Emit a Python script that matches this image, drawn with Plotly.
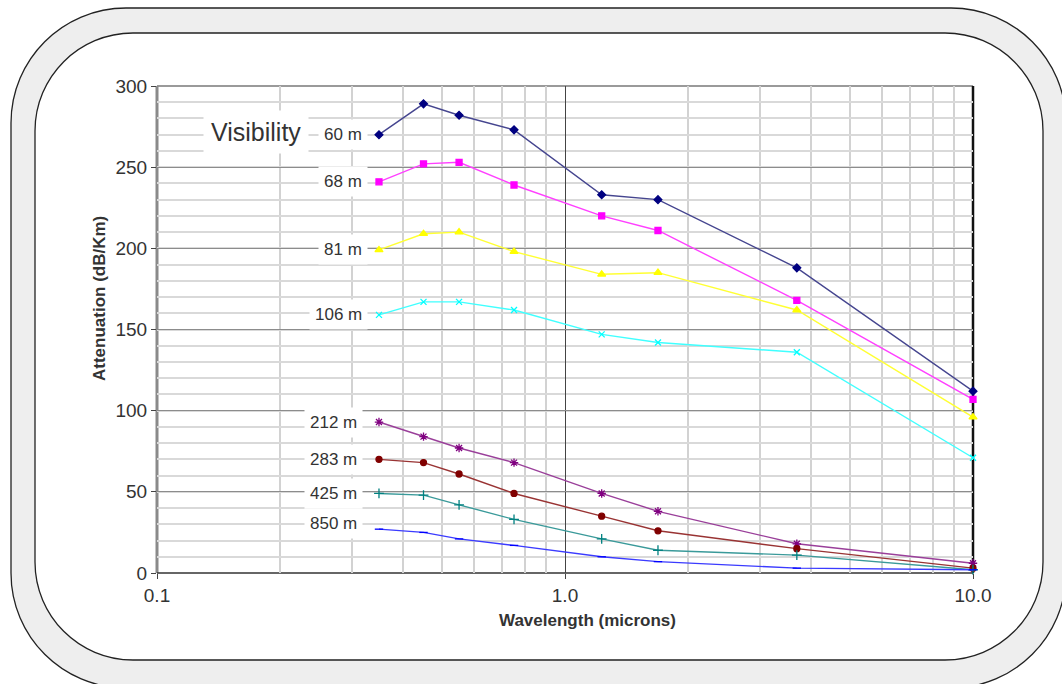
import numpy as np
import plotly.graph_objects as go

# Wavelengths (microns) shared by every visibility series
wavelength = [0.35, 0.45, 0.55, 0.75, 1.23, 1.69, 3.7, 10.0]

# Attenuation (dB/km) for each visibility distance
att_60 = [270, 289, 282, 273, 233, 230, 188, 112]
att_68 = [241, 252, 253, 239, 220, 211, 168, 107]
att_81 = [199, 209, 210, 198, 184, 185, 162, 96]
att_106 = [159, 167, 167, 162, 147, 142, 136, 71]
att_212 = [93, 84, 77, 68, 49, 38, 18, 6]
att_283 = [70, 68, 61, 49, 35, 26, 15, 3]
att_425 = [49, 48, 42, 33, 21, 14, 11, 2]
att_850 = [27, 25, 21, 17, 10, 7, 3, 2]

series_names = ["60 m", "68 m", "81 m", "106 m", "212 m", "283 m", "425 m", "850 m"]
series_values = [att_60, att_68, att_81, att_106, att_212, att_283, att_425, att_850]

x_tick_vals = [0.1, 1.0, 10.0]
x_tick_text = ["0.1", "1.0", "10.0"]
y_tick_vals = [0, 50, 100, 150, 200, 250, 300]

# Per-series styling (Excel-like palette)
marker_colors = ["#000080", "#ff00ff", "#ffff00", "#00ffff", "#800080", "#800000", "#008080", "#0000ff"]
line_colors = ["#45458f", "#ff40ff", "#ffff33", "#40ffff", "#9a3f9a", "#993333", "#3a9a9a", "#3b3bff"]
symbols = ["diamond", "square", "triangle-up", "x-thin-open", "asterisk-open",
           "circle", "cross-thin-open", "line-ew-open"]
msizes = [6, 6, 7, 6, 7, 6, 7, 6]
label_shift = [(-11, 0), (-11, 0), (-11, 0), (-11, 0), (-16, 0), (-16, 0), (-16, 0), (-16, 6)]

FONT = "Arial, 'Liberation Sans', sans-serif"
W, H = 1062, 684
ML, MR, MT, MB = 157, 89, 86, 111
PW, PH = W - ML - MR, H - MT - MB


def px(x):
    return (x - ML) / PW


def py(y):
    return (H - MB - y) / PH


def rounded_rect(x0, y0, x1, y1, r):
    k = 0.5523 * r
    pts = []
    pts.append(f"M {px(x0 + r)},{py(y0)}")
    pts.append(f"L {px(x1 - r)},{py(y0)}")
    pts.append(f"C {px(x1 - r + k)},{py(y0)} {px(x1)},{py(y0 + r - k)} {px(x1)},{py(y0 + r)}")
    pts.append(f"L {px(x1)},{py(y1 - r)}")
    pts.append(f"C {px(x1)},{py(y1 - r + k)} {px(x1 - r + k)},{py(y1)} {px(x1 - r)},{py(y1)}")
    pts.append(f"L {px(x0 + r)},{py(y1)}")
    pts.append(f"C {px(x0 + r - k)},{py(y1)} {px(x0)},{py(y1 - r + k)} {px(x0)},{py(y1 - r)}")
    pts.append(f"L {px(x0)},{py(y0 + r)}")
    pts.append(f"C {px(x0)},{py(y0 + r - k)} {px(x0 + r - k)},{py(y0)} {px(x0 + r)},{py(y0)}")
    pts.append("Z")
    return " ".join(pts)


fig = go.Figure()

for name, vals, mc, lc, sym, ms in zip(series_names, series_values, marker_colors,
                                        line_colors, symbols, msizes):
    fig.add_trace(go.Scatter(
        x=wavelength, y=vals, name=name, mode="lines+markers",
        line=dict(color=lc, width=1.4),
        marker=dict(symbol=sym, size=ms, color=mc, line=dict(color=mc, width=1.3)),
        cliponaxis=False, showlegend=False,
    ))

# Series name labels next to the first point of each curve
for name, vals, (dx, dy) in zip(series_names, series_values, label_shift):
    fig.add_annotation(
        x=np.log10(wavelength[0]), y=vals[0], xref="x", yref="y",
        text=name, showarrow=False, xanchor="right", yanchor="middle",
        xshift=dx, yshift=dy, bgcolor="white", borderpad=5,
        font=dict(family=FONT, size=17, color="#333333"),
    )

fig.add_annotation(
    x=px(256), y=py(132), xref="paper", yref="paper", text="Visibility",
    showarrow=False, xanchor="center", yanchor="middle",
    bgcolor="white", borderpad=7,
    font=dict(family=FONT, size=25, color="#333333"),
)

# Axis titles
fig.add_annotation(
    x=px(99), y=py(299), xref="paper", yref="paper",
    text="<b>Attenuation (dB/Km)</b>", textangle=-90, showarrow=False,
    xanchor="center", yanchor="middle",
    font=dict(family=FONT, size=17, color="#333333"),
)
fig.add_annotation(
    x=px(587), y=py(620), xref="paper", yref="paper",
    text="<b>Wavelength (microns)</b>", showarrow=False,
    xanchor="center", yanchor="middle",
    font=dict(family=FONT, size=17, color="#333333"),
)

shapes = [
    # outer frame and inner panel
    dict(type="path", xref="paper", yref="paper", layer="below",
         path=rounded_rect(11, 8, 1066, 688, 115),
         fillcolor="#eeeeee", line=dict(color="#222222", width=1.3)),
    dict(type="path", xref="paper", yref="paper", layer="below",
         path=rounded_rect(35, 33, 1043, 660, 98),
         fillcolor="white", line=dict(color="#222222", width=1.3)),
    # plot area borders
    dict(type="line", xref="paper", yref="paper", x0=0, x1=1, y0=1, y1=1,
         layer="between", line=dict(color="#9a9a9a", width=2)),
    dict(type="line", xref="paper", yref="paper", x0=0, x1=0, y0=0, y1=1,
         layer="between", line=dict(color="#8a8a8a", width=3)),
    dict(type="line", xref="paper", yref="paper", x0=1, x1=1, y0=0, y1=1,
         layer="between", line=dict(color="#111111", width=2.5)),
    dict(type="line", xref="paper", yref="paper", x0=0, x1=1, y0=0, y1=0,
         layer="between", line=dict(color="#333333", width=1.5)),
]

minor_x = [m * d for d in (0.1, 1.0) for m in range(2, 10)]

fig.update_layout(
    width=W, height=H,
    margin=dict(l=ML, r=MR, t=MT, b=MB, pad=0),
    paper_bgcolor="white", plot_bgcolor="rgba(0,0,0,0)",
    shapes=shapes,
    font=dict(family=FONT, color="#333333"),
    xaxis=dict(
        type="log", range=[-1, 1], tickmode="array",
        tickvals=x_tick_vals, ticktext=x_tick_text,
        ticks="outside", ticklen=5, tickcolor="#444444", tickwidth=1,
        tickfont=dict(family=FONT, size=19, color="#333333"),
        showgrid=True, gridcolor="#444444", gridwidth=1.3,
        zeroline=False, showline=False,
        minor=dict(tickmode="array", tickvals=minor_x, showgrid=True,
                   gridcolor="#d2d2d2", gridwidth=2, ticks=""),
        automargin=False,
    ),
    yaxis=dict(
        range=[0, 300], tickmode="array", tickvals=y_tick_vals,
        ticks="outside", ticklen=5, tickcolor="#444444", tickwidth=1,
        tickfont=dict(family=FONT, size=19, color="#333333"),
        showgrid=True, gridcolor="#8c8c8c", gridwidth=1.2,
        zeroline=False, showline=False,
        minor=dict(dtick=10, showgrid=True, gridcolor="#d9d9d9", gridwidth=2, ticks=""),
        automargin=False,
    ),
)

fig.write_html("out.html")
